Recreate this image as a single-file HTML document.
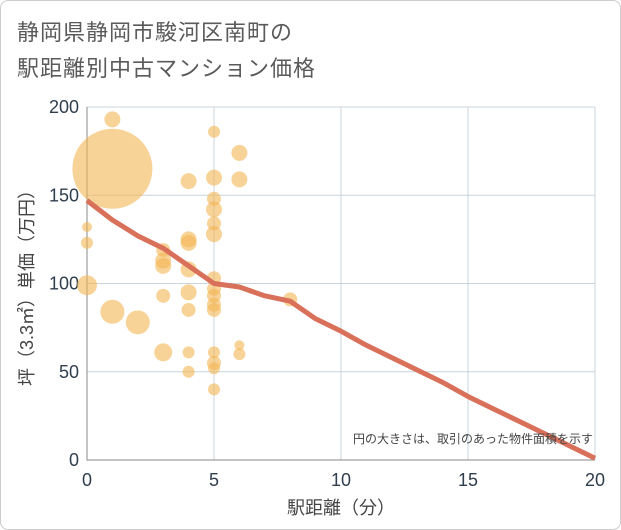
<!DOCTYPE html>
<html><head><meta charset="utf-8"><style>
body{margin:0;background:#fff;font-family:"Liberation Sans","Noto Sans CJK JP",sans-serif;}
#wrap{position:relative;width:619px;height:528px;border:1px solid #ccc;border-radius:8px;overflow:hidden;background:#fff}
.t{position:absolute;left:16px;color:#5a5a5a;font-size:22px;letter-spacing:1px}
</style></head><body>
<div id="wrap">
<div class="t" style="top:14px">静岡県静岡市駿河区南町の</div>
<div class="t" style="top:50px">駅距離別中古マンション価格</div>
<svg id="c" width="621" height="530" style="position:absolute;left:-1px;top:-1px"></svg>
</div>
<script>
const xTicks=[0,5,10,15,20];
const yTicks=[0,50,100,150,200];
const bubbleX=[1,1,0,0,0,1,2,3,3,3,3,3,4,4,4,4,4,4,4,4,5,5,5,5,5,5,5,5,5,5,5,5,5,5,5,6,6,6,6,8];
const bubbleY=[165,193,132,123,99,84,78,119,113,110,93,61,158,125,123,108,95,85,61,50,186,160,148,142,134,128,103,97,93,88,85,61,55,52,40,174,159,65,60,91];
const bubbleSize=[40,8,5,6,10,12,12,7,8,8,7,9,8,8,8,8,8,7,6,6,6,8,7,8,7,8,7,7,7,7,7,6,7,6,6,8,8,5,6,7];
const lineX=[0,1,2,3,4,5,6,7,8,9,10,11,12,13,14,15,16,17,18,19,20];
const lineY=[147,136,127,120,110,100,98,93,90,80,73,65,58,51,44,36,29,22,15,8,1];
const L=87,R=595,T=107,B=460;
const sx=v=>L+(v-0)/20*(R-L), sy=v=>B-v/200*(B-T);
const svg=document.getElementById('c');const NS='http://www.w3.org/2000/svg';
function mk(t,a,p){const e=document.createElementNS(NS,t);for(const k in a)e.setAttribute(k,a[k]);(p||svg).appendChild(e);return e;}
xTicks.forEach(v=>{const l=mk('line',{x1:sx(v),x2:sx(v),y1:T,y2:B,stroke:'#c8d4de','stroke-width':1});

const t=mk('text',{x:sx(v),y:B+26,'text-anchor':'middle','font-size':18,fill:'#2f3e4e'});t.textContent=v;
});
yTicks.forEach(v=>{const l=mk('line',{x1:L,x2:R,y1:sy(v),y2:sy(v),stroke:'#c8d4de','stroke-width':1});

const t=mk('text',{x:L-8,y:sy(v)+6,'text-anchor':'end','font-size':18,fill:'#2f3e4e'});t.textContent=v;
});
const ax=mk('path',{d:`M${L} ${T}V${B}H${R}`,stroke:'#888',fill:'none'});

bubbleX.forEach((x,i)=>{const c=mk('circle',{cx:sx(x),cy:sy(bubbleY[i]),r:bubbleSize[i],fill:'#f3b553','fill-opacity':0.6});
});
const ln=mk('polyline',{points:lineX.map((x,i)=>sx(x)+','+sy(lineY[i])).join(' '),fill:'none',stroke:'#d9705a','stroke-width':5,'stroke-linejoin':'round'});

const n=mk('text',{x:R-2,y:443,'text-anchor':'end','font-size':12,fill:'#444'});n.textContent='円の大きさは、取引のあった物件面積を示す';

const xt=mk('text',{x:(L+R)/2,y:514,'text-anchor':'middle','font-size':18,fill:'#444'});xt.textContent='駅距離（分）';

const yt=mk('text',{x:0,y:0,'text-anchor':'middle','font-size':18,fill:'#444',transform:`translate(33,${(T+B)/2}) rotate(-90)`});yt.textContent='坪（3.3㎡）単価（万円）';

</script>
</body></html>
